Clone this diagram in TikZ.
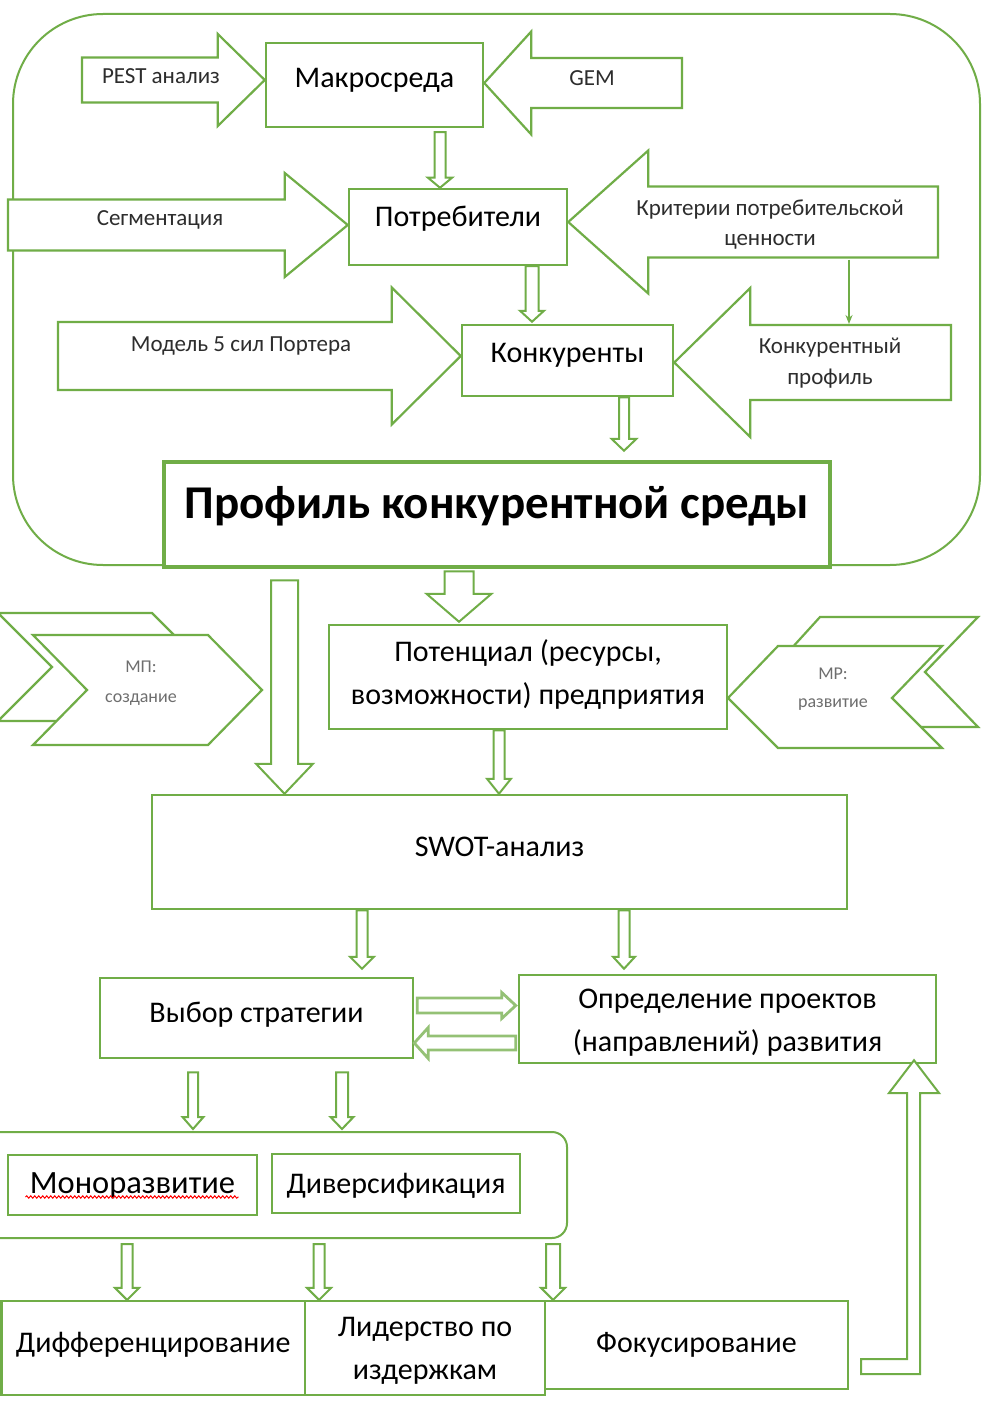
\documentclass[tikz,border=0pt]{standalone}
\usepackage{fontspec}
\setmainfont{Carlito}
\usetikzlibrary{calc,arrows.meta,decorations.pathmorphing}
\definecolor{gr}{RGB}{112,173,71}
\definecolor{grl}{RGB}{197,224,180}
\definecolor{lbl}{RGB}{45,45,45}
\definecolor{lbg}{RGB}{110,110,110}
\newcommand\tb[2]{\raisebox{#1}[0pt][0pt]{#2}}
\newcommand\tbb[2]{\raisebox{#1}[0pt][0pt]{\begin{tabular}[b]{@{}c@{}}#2\end{tabular}}}
% hollow arrows: #1 start, #2 tip, #3 half shaft, #4 half head, #5 head length, #6 style
\newcommand\hdn[6]{\draw[#6] let \p1=#1, \p2=#2 in (\x1-#3pt,\y1) -- (\x1-#3pt,\y2+#5pt) -- (\x1-#4pt,\y2+#5pt) -- (\x1,\y2) -- (\x1+#4pt,\y2+#5pt) -- (\x1+#3pt,\y2+#5pt) -- (\x1+#3pt,\y1) -- cycle;}
\newcommand\hrt[6]{\draw[#6] let \p1=#1, \p2=#2 in (\x1,\y2+#3pt) -- (\x2-#5pt,\y2+#3pt) -- (\x2-#5pt,\y2+#4pt) -- (\x2,\y2) -- (\x2-#5pt,\y2-#4pt) -- (\x2-#5pt,\y2-#3pt) -- (\x1,\y2-#3pt) -- cycle;}
\newcommand\hlt[6]{\draw[#6] let \p1=#1, \p2=#2 in (\x1,\y2+#3pt) -- (\x2+#5pt,\y2+#3pt) -- (\x2+#5pt,\y2+#4pt) -- (\x2,\y2) -- (\x2+#5pt,\y2-#4pt) -- (\x2+#5pt,\y2-#3pt) -- (\x1,\y2-#3pt) -- cycle;}
\begin{document}
\begin{tikzpicture}[x=1pt,y=-1pt,
  box/.style={draw=gr, line width=2.5pt, fill=white, inner sep=0pt, font=\fontsize{30}{43}\selectfont},
  lab/.style={text=lbl, inner sep=0pt, align=center, font=\fontsize{23}{30}\selectfont},
  labs/.style={text=lbg, inner sep=0pt, align=center, font=\fontsize{18}{30}\selectfont},
  barr/.style={draw=gr, line width=2.2pt, fill=white, line join=miter},
  sarr/.style={draw=gr, line width=2pt, fill=white, line join=miter},
  larr/.style={draw=gr!75, line width=2.8pt, fill=white, line join=miter},
  chev/.style={draw=gr, line width=2.2pt, fill=white, line join=miter}]
\useasboundingbox (0,0) rectangle (994,1404);
\fill[white] (0,0) rectangle (994,1404);

% outer frame
\draw[gr, line width=2pt, rounded corners=90pt] (13,14) rectangle (980,565);

% boxes
\node[box, minimum width=217pt, minimum height=84pt] (makro) at (374.5,85) {\tb{-3pt}{Макросреда}};
\node[box, minimum width=218pt, minimum height=76pt] (potr) at (458,227) {\tb{0pt}{Потребители}};
\node[box, minimum width=211pt, minimum height=71pt] (konk) at (567.5,360.5) {\tb{-1.5pt}{Конкуренты}};
\node[box, line width=4.5pt, minimum width=666pt, minimum height=105pt, font=\bfseries\fontsize{47}{56}\selectfont] (profile) at (497,514.5) {\tb{-3.5pt}{Профиль конкурентной среды}};
\node[box, minimum width=398pt, minimum height=104pt] (poten) at (528,677) {\tbb{-27pt}{Потенциал (ресурсы,\\возможности) предприятия}};
\node[box, minimum width=695pt, minimum height=114pt] (swot) at (499.5,852) {\tb{-4pt}{SWOT-анализ}};
\node[box, minimum width=313pt, minimum height=80pt] (vybor) at (256.5,1018) {\tb{-4pt}{Выбор стратегии}};
\node[box, minimum width=417pt, minimum height=88pt] (opred) at (727.5,1019) {\tbb{-32pt}{Определение проектов\\(направлений) развития}};
\node[draw=gr, line width=2pt, rounded corners=15pt, minimum width=597pt, minimum height=106pt, inner sep=0pt] (grp) at (268.5,1185) {};
\node[box, minimum width=249pt, minimum height=60pt, font=\fontsize{32.5}{40}\selectfont] (mono) at (132.5,1185) {\tb{-8pt}{Моноразвитие}};
\node[box, minimum width=248pt, minimum height=59pt] (diver) at (396,1183.5) {\tb{-9.5pt}{Диверсификация}};
\node[box, line width=2.2pt, minimum width=303.5pt, minimum height=94pt] (diff) at (153.25,1348) {\tb{-4pt}{Дифференцирование}};
\node[box, line width=2.2pt, minimum width=240pt, minimum height=94pt] (lider) at (425,1348) {\tbb{-31pt}{Лидерство по\\издержкам}};
\node[box, line width=2.2pt, minimum width=303pt, minimum height=88pt] (fokus) at (696.5,1345) {\tb{-7pt}{Фокусирование}};

% spell-check underline
\draw[red, line width=1pt, decorate, decoration={snake, amplitude=1.2pt, segment length=4pt}] ([xshift=-107pt,yshift=-12pt]mono.center) -- ([xshift=106pt,yshift=-12pt]mono.center);

% big block arrows
\coordinate (pestS) at (82,80);
\coordinate (gemS) at (682,83);
\coordinate (segS) at (8,225);
\coordinate (kritS) at (938,222);
\coordinate (modS) at (58,356);
\coordinate (kprS) at (951,362.5);
\hrt{(pestS)}{([yshift=5pt]makro.west)}{22.5}{46}{47}{barr}
\hlt{(gemS)}{([yshift=2pt]makro.east)}{25}{51.5}{47}{barr}
\hrt{(segS)}{([yshift=2pt]potr.west)}{25.5}{52}{63}{barr}
\hlt{(kritS)}{([yshift=5pt]potr.east)}{35.5}{71.5}{80}{barr}
\hrt{(modS)}{([yshift=4.5pt]konk.west)}{34}{68.5}{69}{barr}
\hlt{(kprS)}{([yshift=-2pt]konk.east)}{37.5}{74.5}{76}{barr}

% thin arrow
\coordinate (kritB) at (849,260);
\coordinate (kprTop) at (849,324);
\draw[gr, line width=1.8pt, -{Stealth[length=9pt,width=7pt]}] (kritB) -- (kprTop);

% labels in arrows
\node[lab] (pestT) at (161,76) {PEST анализ};
\node[lab] (gemT) at (592,78) {GEM};
\node[lab] (segT) at (160,220) {Сегментация};
\node[lab] (kritT) at (770,225) {Критерии потребительской\\ценности};
\node[lab] (modT) at (241,346) {Модель 5 сил Портера};
\node[lab, font=\fontsize{23}{31}\selectfont] (kprT) at (830,363.5) {Конкурентный\\профиль};

% hollow connector arrows (top part)
\hdn{([xshift=65.5pt,yshift=-4pt]makro.south)}{(potr.north)}{5.5}{12}{10}{sarr}
\hdn{([xshift=74pt]potr.south)}{([yshift=2pt]konk.north)}{6.5}{12}{11}{sarr}
\hdn{([xshift=56.5pt]konk.south)}{([yshift=9pt]profile.north)}{5}{12.5}{12}{sarr}
\hdn{([xshift=-212.5pt,yshift=-11pt]profile.south)}{(swot.north)}{13.5}{28.5}{30}{sarr}
\hdn{([xshift=-38pt,yshift=-2pt]profile.south)}{([yshift=2pt]poten.north)}{14.5}{32.5}{28}{sarr}
\hdn{([xshift=-29pt]poten.south)}{(swot.north)}{5.5}{12}{15}{sarr}
\hdn{([xshift=-137.5pt]swot.south)}{([yshift=8pt]vybor.north)}{5.5}{12}{12}{sarr}
\hdn{([xshift=124.5pt]swot.south)}{([yshift=5pt]opred.north)}{5.5}{11}{12}{sarr}

% chevrons
\draw[chev] (-2,613) -- (152,613) -- (206,667) -- (152,721) -- (-2,721) -- (52,667) -- cycle;
\draw[chev] (33,635) -- (208,635) -- (262,690) -- (208,745) -- (33,745) -- (87,690) -- cycle;
\draw[chev] (820,617) -- (978,617) -- (925,672) -- (978,727) -- (820,727) -- (770,672) -- cycle;
\draw[chev] (778,646) -- (942,646) -- (892,698) -- (942,748) -- (778,748) -- (728,698) -- cycle;
\node[labs] (mpT) at (141,683.5) {МП:\\создание};
\node[labs, font=\fontsize{18}{28}\selectfont] (mrT) at (833,689) {МР:\\развитие};

% between strategy and projects
\hrt{([xshift=3pt]vybor.east)}{([xshift=-2pt,yshift=13.5pt]opred.west)}{7.5}{13}{14}{larr}
\hlt{([xshift=-2pt]opred.west)}{([yshift=-25pt]vybor.east)}{7}{15.5}{14}{larr}

% strategy to group
\hdn{([xshift=-63.5pt,yshift=-13pt]vybor.south)}{([yshift=2pt]grp.north)}{5}{10.5}{12}{sarr}
\hdn{([xshift=85.5pt,yshift=-13pt]vybor.south)}{([yshift=2pt]grp.north)}{6}{11.5}{12}{sarr}

% group to bottom
\hdn{([xshift=-141.5pt,yshift=-5pt]grp.south)}{(diff.north)}{5.5}{12}{12}{sarr}
\hdn{([xshift=50.5pt,yshift=-5pt]grp.south)}{(diff.north)}{5.5}{12}{12}{sarr}
\hdn{([xshift=284.5pt,yshift=-5pt]grp.south)}{(diff.north)}{7}{12}{12}{sarr}

% L-shaped return arrow
\coordinate (ltip) at ([xshift=186.5pt,yshift=4pt]opred.south);
\draw[sarr] (861,1359) -- (907,1359) -- (907,1093) -- (889,1093) -- (ltip) -- (939,1093) -- (920,1093) -- (920,1374) -- (861,1374) -- cycle;
\end{tikzpicture}
\end{document}
